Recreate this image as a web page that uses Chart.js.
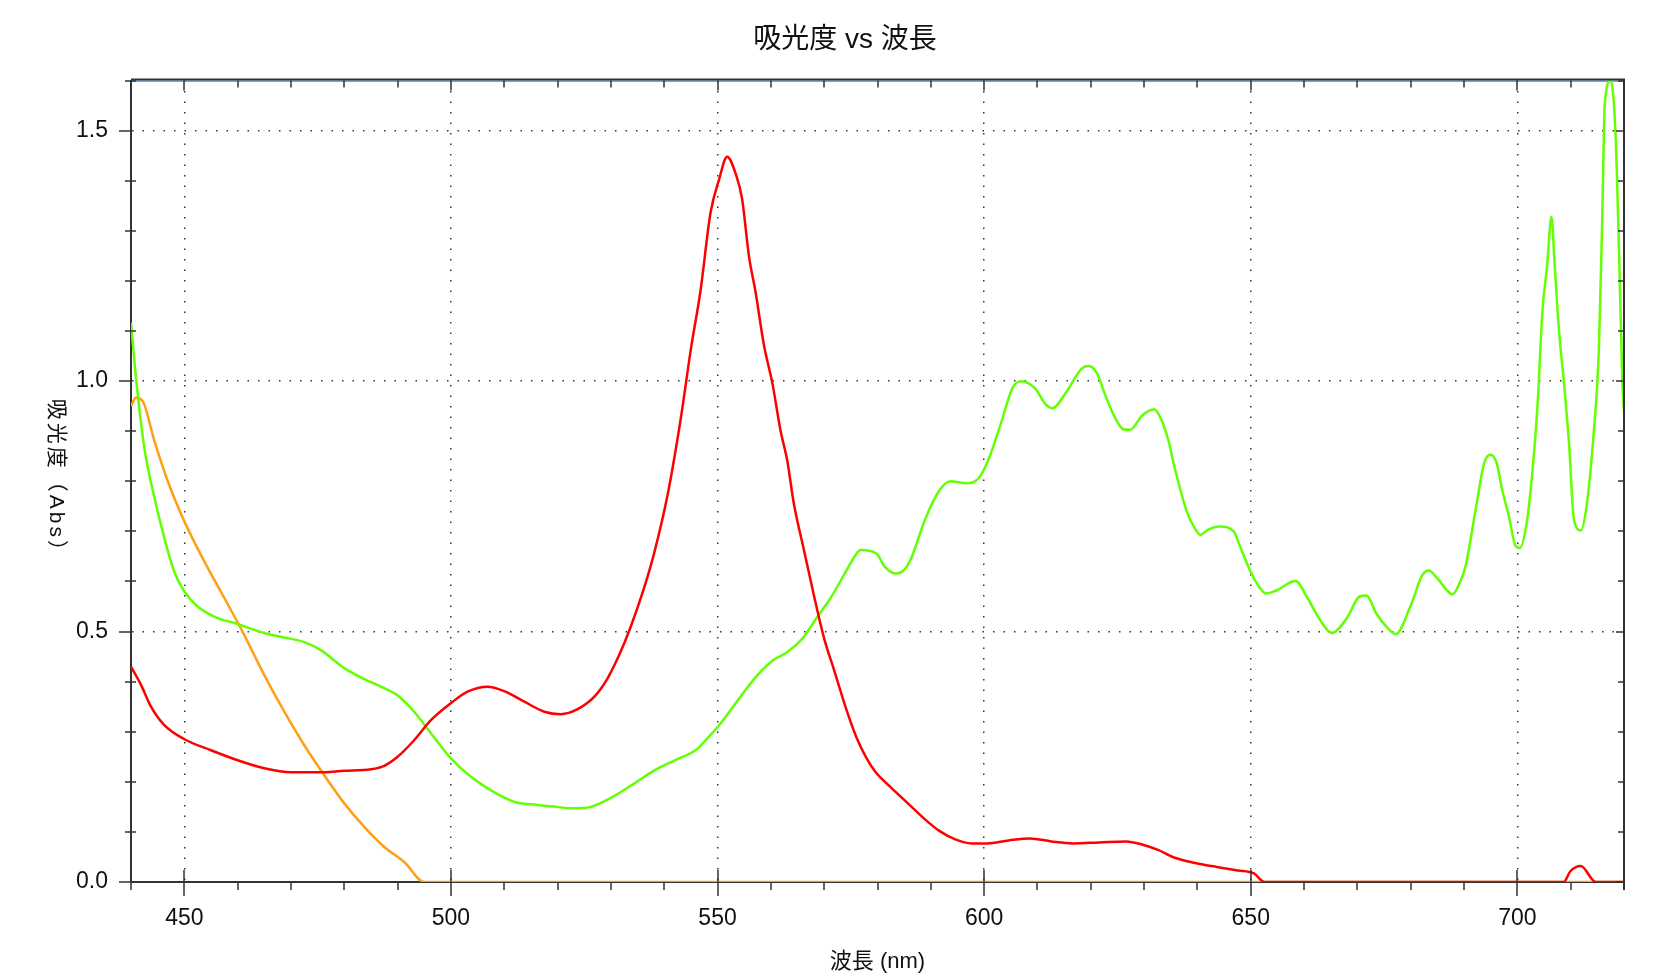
<!DOCTYPE html>
<html>
<head>
<meta charset="utf-8">
<title>吸光度 vs 波長</title>
<script src="https://cdn.jsdelivr.net/npm/chart.js@4.4.0/dist/chart.umd.min.js"></script>
<style>
  html, body { margin: 0; padding: 0; background: #fff; }
  #wrap { width: 1672px; height: 979px; }
</style>
</head>
<body>
<div id="wrap"><canvas id="specChart" width="1672" height="979"></canvas></div>
<script>
// wavelength (nm) / absorbance
const redX = [440, 441.9, 443.75, 446.25, 450, 455, 460, 465, 470, 475, 480, 485, 487.5, 490, 493.1, 496.25, 500, 503.1, 506.9, 510, 513.75, 517.5, 520.6, 523.75, 526.9, 529.3, 531.8, 533.7, 536.2, 538.1, 540.6, 543.1, 545, 546.8, 548.7, 550.3, 551.8, 553.4, 554.6, 555.9, 557.1, 558.7, 560.3, 561.8, 563.1, 564.3, 566.2, 568.1, 570, 571.8, 574.3, 576, 577.8, 579.6, 582.6, 585.6, 588.6, 591.6, 594.6, 597.6, 600.6, 604.6, 608.6, 612.6, 616.6, 621.6, 626.6, 629.6, 632.6, 635.6, 639.6, 643.6, 647.6, 650.6, 652.6, 708.7, 709.9, 711.9, 714.7, 720];
const redY = [0.43, 0.393, 0.35, 0.313, 0.285, 0.263, 0.243, 0.227, 0.219, 0.219, 0.222, 0.225, 0.232, 0.25, 0.283, 0.323, 0.357, 0.38, 0.39, 0.381, 0.36, 0.34, 0.335, 0.345, 0.37, 0.405, 0.459, 0.509, 0.586, 0.656, 0.771, 0.925, 1.064, 1.18, 1.337, 1.403, 1.448, 1.414, 1.364, 1.249, 1.18, 1.072, 0.995, 0.902, 0.84, 0.756, 0.663, 0.571, 0.486, 0.425, 0.34, 0.29, 0.25, 0.22, 0.188, 0.158, 0.128, 0.102, 0.085, 0.077, 0.077, 0.083, 0.087, 0.081, 0.077, 0.079, 0.081, 0.075, 0.064, 0.049, 0.038, 0.03, 0.023, 0.017, 0, 0, 0.021, 0.032, 0, 0];

const greenX = [440, 441, 442.5, 444.4, 446.25, 448.1, 450, 452.5, 455.6, 460, 465, 468.75, 472.5, 475.6, 480, 483.75, 487.5, 490.3, 493.1, 496.25, 500, 503.75, 507.5, 511.9, 515, 518.75, 523.1, 526.25, 530, 534, 538, 542, 546, 547.5, 550.6, 554.3, 557.5, 560.6, 563.1, 565.9, 568.7, 571.2, 573.7, 575.6, 576.8, 579.8, 581.4, 583.4, 585, 586.3, 588.9, 591.5, 593.7, 596.6, 598.3, 599.5, 601.2, 603.1, 605.4, 607, 609.6, 611.5, 612.8, 615.4, 618.3, 619.6, 621.2, 622.5, 624.5, 626.1, 627.4, 629.6, 631.9, 633.2, 634.5, 635.8, 638, 639.3, 640.6, 641.9, 644.1, 646.8, 648, 650, 651.6, 652.9, 654.8, 658.4, 660.7, 662.9, 665.2, 668.1, 670.4, 671.7, 673.6, 675.6, 677.2, 680, 682.2, 683.4, 685, 686.9, 687.8, 689.1, 690.3, 692.2, 693.75, 694.9, 696.1, 697.2, 698.4, 699.7, 700.5, 701.75, 702.8, 703.75, 704.7, 705.6, 706.4, 707, 707.8, 708.75, 709.7, 710.6, 711.9, 713, 714.25, 715.3, 715.9, 716.4, 717.5, 718.4, 719.1, 719.7, 720];
const greenY = [1.116, 1.0, 0.867, 0.767, 0.687, 0.62, 0.58, 0.55, 0.53, 0.515, 0.497, 0.488, 0.479, 0.463, 0.427, 0.405, 0.387, 0.37, 0.34, 0.297, 0.247, 0.21, 0.183, 0.16, 0.155, 0.151, 0.147, 0.15, 0.168, 0.194, 0.222, 0.243, 0.264, 0.28, 0.317, 0.37, 0.413, 0.444, 0.459, 0.486, 0.529, 0.567, 0.613, 0.648, 0.663, 0.656, 0.629, 0.616, 0.623, 0.646, 0.723, 0.78, 0.8, 0.796, 0.8, 0.814, 0.854, 0.914, 0.988, 1.0, 0.985, 0.954, 0.946, 0.978, 1.025, 1.03, 1.015, 0.978, 0.928, 0.904, 0.903, 0.931, 0.944, 0.924, 0.884, 0.824, 0.74, 0.71, 0.693, 0.703, 0.71, 0.7, 0.67, 0.619, 0.589, 0.576, 0.582, 0.601, 0.566, 0.525, 0.497, 0.528, 0.57, 0.572, 0.535, 0.508, 0.495, 0.552, 0.613, 0.622, 0.606, 0.581, 0.574, 0.595, 0.631, 0.745, 0.835, 0.853, 0.837, 0.781, 0.731, 0.67, 0.667, 0.717, 0.817, 0.946, 1.139, 1.232, 1.328, 1.232, 1.103, 0.996, 0.874, 0.724, 0.702, 0.752, 0.888, 1.067, 1.318, 1.554, 1.6, 1.496, 1.246, 0.996, 0.94];

const orangeX = [440, 440.9, 442.2, 444.4, 446.9, 450, 453.75, 457.5, 461.25, 465, 468.75, 472.5, 476.25, 480, 483.75, 487.5, 491.25, 495, 720];
const orangeY = [0.95, 0.967, 0.96, 0.88, 0.8, 0.72, 0.64, 0.567, 0.493, 0.413, 0.34, 0.273, 0.213, 0.157, 0.11, 0.07, 0.04, 0, 0];

const blueX = [440, 720];
const blueY = [1.6, 1.6];

const xMin = 440, xMax = 720, xStep = 10, xMajor = 50;
const yMin = 0, yMax = 1.6, yStep = 0.1, yMajor = 0.5;

const chartTitle = "吸光度 vs 波長";
const xTitle = "波長 (nm)";
const yTitle = "吸光度（Abs）";

const tickFont = "'Liberation Sans Narrow', 'Arial Narrow', 'Liberation Sans', sans-serif";
const textFont = "'Liberation Sans', 'Noto Sans CJK JP', sans-serif";

function pts(xs, ys) {
  return xs.map((x, i) => ({ x: x, y: ys[i] }));
}
function isMajorX(v) { return Math.abs(v / xMajor - Math.round(v / xMajor)) < 1e-6; }
function isMajorY(v) { return Math.abs(v / yMajor - Math.round(v / yMajor)) < 1e-6; }

// frame, ticks on all four sides, rotated y title
const frameTicks = {
  id: 'frameTicks',
  afterDatasetsDraw(chart) {
    const { ctx, chartArea: { top, bottom, left, right }, scales: { x, y } } = chart;
    ctx.save();
    ctx.strokeStyle = '#333';
    ctx.lineWidth = 2;
    ctx.beginPath();
    ctx.moveTo(left, top - 1);
    ctx.lineTo(right + 1, top - 1);
    ctx.moveTo(right, top - 1);
    ctx.lineTo(right, bottom + 8);
    ctx.stroke();

    ctx.lineWidth = 1.5;
    ctx.beginPath();
    x.ticks.forEach(t => {
      const px = Math.round(x.getPixelForValue(t.value));
      if (isMajorX(t.value)) {
        ctx.moveTo(px, bottom - 12);
        ctx.lineTo(px, bottom + 14);
        ctx.moveTo(px, top);
        ctx.lineTo(px, top + 10);
      } else {
        ctx.moveTo(px, bottom);
        ctx.lineTo(px, bottom + 8);
        ctx.moveTo(px, top);
        ctx.lineTo(px, top + 7);
      }
    });
    y.ticks.forEach(t => {
      const py = Math.round(y.getPixelForValue(t.value));
      if (isMajorY(t.value)) {
        ctx.moveTo(left - 12, py);
        ctx.lineTo(left, py);
        ctx.moveTo(right - 8, py);
        ctx.lineTo(right, py);
      } else {
        ctx.moveTo(left - 6, py);
        ctx.lineTo(left + 5, py);
        ctx.moveTo(right - 6, py);
        ctx.lineTo(right, py);
      }
    });
    ctx.stroke();
    ctx.restore();
  },
  afterDraw(chart) {
    const { ctx, chartArea: { top, bottom } } = chart;
    ctx.save();
    ctx.translate(56, (top + bottom) / 2);
    ctx.rotate(Math.PI / 2);
    ctx.font = "21px " + textFont;
    ctx.letterSpacing = "3px";
    ctx.fillStyle = '#111';
    ctx.textAlign = 'center';
    ctx.textBaseline = 'middle';
    ctx.fillText(yTitle, 0, 0);
    ctx.restore();
  }
};

const lineStyle = {
  pointRadius: 0,
  borderWidth: 2.5,
  tension: 0.3,
  cubicInterpolationMode: 'monotone',
  fill: false
};

const ctx = document.getElementById("specChart");
const myChart = new Chart(ctx, {
  type: "line",
  data: {
    datasets: [
      Object.assign({ label: "red", data: pts(redX, redY), borderColor: "rgb(255, 0, 0)" }, lineStyle),
      Object.assign({ label: "green", data: pts(greenX, greenY), borderColor: "rgb(100, 255, 0)" }, lineStyle),
      Object.assign({ label: "orange", data: pts(orangeX, orangeY), borderColor: "rgb(255, 160, 20)" }, lineStyle),
      Object.assign({ label: "blue", data: pts(blueX, blueY), borderColor: "rgb(30, 150, 255)" }, lineStyle)
    ]
  },
  plugins: [frameTicks],
  options: {
    responsive: false,
    animation: false,
    devicePixelRatio: 1,
    events: [],
    layout: { padding: { left: 66, right: 48, top: 0, bottom: 0 } },
    plugins: {
      legend: { display: false },
      tooltip: { enabled: false },
      title: {
        display: true,
        text: chartTitle,
        color: '#111',
        font: { family: textFont, size: 28, weight: 'normal' },
        padding: { top: 23, bottom: 24 }
      }
    },
    scales: {
      x: {
        type: 'linear',
        position: 'bottom',
        min: xMin,
        max: xMax,
        afterFit(scale) { scale.height = 97; },
        ticks: {
          stepSize: xStep,
          autoSkip: false,
          maxRotation: 0,
          padding: 23,
          color: '#111',
          font: { family: tickFont, size: 23 },
          callback: v => isMajorX(v) ? String(Math.round(v)) : ''
        },
        grid: {
          drawTicks: false,
          lineWidth: 1.5,
          color: c => (c.tick && isMajorX(c.tick.value) && c.tick.value > xMin && c.tick.value < xMax) ? '#333' : 'rgba(0,0,0,0)'
        },
        border: { display: true, color: '#333', width: 2, dash: [1.5, 9] },
        title: {
          display: true,
          text: xTitle,
          color: '#111',
          font: { family: textFont, size: 22 },
          padding: { top: 0, bottom: 4 }
        }
      },
      y: {
        type: 'linear',
        position: 'left',
        min: yMin,
        max: yMax,
        afterFit(scale) { scale.width = 65; },
        ticks: {
          stepSize: yStep,
          autoSkip: false,
          padding: 23,
          color: '#111',
          font: { family: tickFont, size: 23 },
          callback: v => isMajorY(v) ? v.toFixed(1) : ''
        },
        grid: {
          drawTicks: false,
          lineWidth: 1.5,
          color: c => (c.tick && isMajorY(c.tick.value) && c.tick.value > yMin && c.tick.value < yMax) ? '#333' : 'rgba(0,0,0,0)'
        },
        border: { display: true, color: '#333', width: 2, dash: [1.5, 9] },
        title: { display: false }
      }
    }
  }
});
</script>
</body>
</html>
